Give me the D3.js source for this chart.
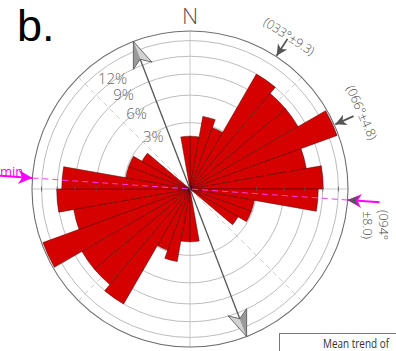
<!DOCTYPE html>
<html>
<head>
<meta charset="utf-8">
<script src="https://cdn.jsdelivr.net/npm/d3@7"></script>
<style>
  html, body { margin: 0; padding: 0; background: #fff; }
  svg { display: block; }
</style>
</head>
<body>
<svg id="chart" width="396" height="351"></svg>
<script>
// Axial rose diagram: share of lineaments per 10° bin over 0–180°,
// each bin also plotted on the opposite bearing (180–360°).
const binStart = [0, 10, 20, 30, 40, 50, 60, 70, 80, 90, 100, 110, 120, 130, 140, 150, 160, 170];
const percent  = [1.9, 3.7, 2.9, 12.0, 10.6, 10.6, 16.7, 9.5, 12.1, 11.2, 2.9, 2.9, 2.1, 0, 0, 0, 0, 1.9];
const ringValues = [3, 6, 9, 12, 15];
const ringLabels = ["3%", "6%", "9%", "12%"];
const outerValue = 17;            // percentage at the bounding circle
const meanTrend = 339;            // bearing of the mean trend (axial)
const modeBearings = [33, 66];
const modeLabels = ["(033°±9.3)", "(066°±4.8)"];
const minBearing = 94;            // bearing of the min stress direction (axial)
const minLabels = ["(094°", "±8.0)"];

const svg = d3.select("#chart");
const cx = 190, cy = 189;
const r = d3.scaleSqrt().domain([0, outerValue]).range([0, 158]);
const R = r(outerValue);
const rad = d => d * Math.PI / 180;
const pt = (bearing, radius) => [cx + radius * Math.sin(rad(bearing)), cy - radius * Math.cos(rad(bearing))];
const thin = "'Open Sans', sans-serif";

const g = svg.append("g");

// grid rings
g.selectAll("circle.ring").data(ringValues).join("circle")
  .attr("cx", cx).attr("cy", cy).attr("r", d => r(d))
  .attr("fill", "none").attr("stroke", "#b4b4b4").attr("stroke-width", 0.9);

// N–S and E–W reference lines
[0, 90].forEach(b => {
  const a = pt(b, R), c = pt(b + 180, R);
  g.append("line").attr("x1", a[0]).attr("y1", a[1]).attr("x2", c[0]).attr("y2", c[1])
    .attr("stroke", "#c4c4c4").attr("stroke-width", 0.9);
});
// diagonal dashed guides
[45, 135, 225, 315].forEach(b => {
  const a = pt(b, R);
  g.append("line").attr("x1", cx).attr("y1", cy).attr("x2", a[0]).attr("y2", a[1])
    .attr("stroke", "#c8c8c8").attr("stroke-width", 0.9).attr("stroke-dasharray", "5,4");
});

// petals
const bins = binStart.flatMap((b, i) => [0, 180].map(off => ({ start: b + off, value: percent[i] })))
  .filter(d => d.value > 0);
const arc = d3.arc();
g.selectAll("path.petal").data(bins).join("path")
  .attr("transform", `translate(${cx},${cy})`)
  .attr("d", d => arc({ innerRadius: 0, outerRadius: r(d.value), startAngle: rad(d.start), endAngle: rad(d.start + 10) }))
  .attr("fill", "#d50000").attr("stroke", "#4a0000").attr("stroke-width", 0.5);

// ticks along the E–W line
ringValues.forEach(v => {
  [-1, 1].forEach(s => {
    const x = cx + s * r(v);
    g.append("line").attr("x1", x).attr("x2", x).attr("y1", cy - 2.5).attr("y2", cy + 2.5)
      .attr("stroke", "#555").attr("stroke-width", 0.8);
  });
});

// bounding circle
g.append("circle").attr("cx", cx).attr("cy", cy).attr("r", R)
  .attr("fill", "none").attr("stroke", "#6e6e6e").attr("stroke-width", 1.1);

// ring labels along 325°, spread slightly so they stay clear of each other
ringValues.slice(0, ringLabels.length).forEach((v, i) => {
  const p = pt(325, r(v) + (v - 7.5) * 0.5);
  g.append("text").attr("x", p[0]).attr("y", p[1])
    .attr("text-anchor", "middle").attr("dominant-baseline", "central")
    .attr("font-family", thin).attr("font-weight", 300)
    .attr("font-size", 15).attr("fill", "#6a6a6a").text(ringLabels[i]);
});

// mean trend: line with shaded arrowheads at both ends
{
  const a = pt(meanTrend, R), c = pt(meanTrend + 180, R);
  g.append("line").attr("x1", a[0]).attr("y1", a[1]).attr("x2", c[0]).attr("y2", c[1])
    .attr("stroke", "#555").attr("stroke-width", 1.3);
  [meanTrend, meanTrend + 180].forEach(b => {
    const p = pt(b, R);
    const h = g.append("g").attr("transform", `translate(${p[0]},${p[1]}) rotate(${b})`);
    h.append("path").attr("d", "M0,0 L-10,26 L0,19 Z").attr("fill", "#9a9a9a");
    h.append("path").attr("d", "M0,0 L10,26 L0,19 Z").attr("fill", "#d2d2d2");
    h.append("path").attr("d", "M0,0 L10,26 L0,19 L-10,26 Z")
      .attr("fill", "none").attr("stroke", "#5a5a5a").attr("stroke-width", 0.8);
  });
}

// min stress direction: dashed magenta line with inward arrows
{
  const a = pt(minBearing, R), c = pt(minBearing + 180, R);
  g.append("line").attr("x1", a[0]).attr("y1", a[1]).attr("x2", c[0]).attr("y2", c[1])
    .attr("stroke", "#f040f0").attr("stroke-width", 1).attr("stroke-dasharray", "6,4");
  // west arrow
  const tailW = pt(minBearing + 180, 200);
  g.append("line").attr("x1", tailW[0]).attr("y1", tailW[1]).attr("x2", c[0]).attr("y2", c[1])
    .attr("stroke", "#ff00ff").attr("stroke-width", 2);
  g.append("path").attr("transform", `translate(${c[0]},${c[1]}) rotate(${minBearing + 180})`)
    .attr("d", "M0,0 L-7,-14 L0,-10 L7,-14 Z").attr("fill", "#ff00ff");
  g.append("text").attr("x", 0).attr("y", 176)
    .attr("font-family", thin).attr("font-size", 13)
    .attr("fill", "#ff00ff").text("min");
  // east arrow
  const tailE = pt(minBearing, 190);
  g.append("line").attr("x1", tailE[0]).attr("y1", tailE[1]).attr("x2", a[0]).attr("y2", a[1])
    .attr("stroke", "#ff00ff").attr("stroke-width", 2);
  g.append("path").attr("transform", `translate(${a[0]},${a[1]}) rotate(${minBearing})`)
    .attr("d", "M0,0 L-7,-14 L0,-10 L7,-14 Z").attr("fill", "#ff00ff");
  g.append("path").attr("transform", `translate(${a[0]},${a[1]}) rotate(${minBearing})`)
    .attr("d", "M0,0 L-5,-11 L0,-8 L5,-11 Z").attr("fill", "#555");
  const lp = pt(101, 189);
  const tg = g.append("g").attr("transform", `translate(${lp[0]},${lp[1]}) rotate(90)`);
  minLabels.forEach((t, i) => {
    tg.append("text").attr("x", 0).attr("y", (i - 0.5) * 15.5)
      .attr("text-anchor", "middle").attr("dominant-baseline", "central")
      .attr("font-family", thin).attr("font-weight", 300)
      .attr("font-size", 12.5).attr("fill", "#4a4a4a").text(t);
  });
}

// mode arrows with labels
modeBearings.forEach((b, i) => {
  const tip = pt(b, R + 1), tail = pt(b, R + 21);
  g.append("line").attr("x1", tail[0]).attr("y1", tail[1]).attr("x2", tip[0]).attr("y2", tip[1])
    .attr("stroke", "#555").attr("stroke-width", 1.8);
  g.append("path").attr("transform", `translate(${tip[0]},${tip[1]}) rotate(${b})`)
    .attr("d", "M0,0 L-5.5,-11 L0,-8 L5.5,-11 Z").attr("fill", "#555");
  const lp = pt(b, i === 0 ? 182 : 188);
  g.append("text").attr("transform", `translate(${lp[0]},${lp[1]}) rotate(${b})`)
    .attr("text-anchor", "middle").attr("dominant-baseline", "central")
    .attr("font-family", thin).attr("font-weight", 300)
    .attr("font-size", 12.5).attr("fill", "#4a4a4a").text(modeLabels[i]);
});

// north label and panel letter
svg.append("text").attr("x", cx).attr("y", 23.5).attr("text-anchor", "middle")
  .attr("font-family", thin).attr("font-weight", 300)
  .attr("font-size", 22.5).attr("fill", "#555").text("N");
svg.append("text").attr("x", 17).attr("y", 41)
  .attr("font-family", "'Liberation Sans', Arial, sans-serif")
  .attr("font-size", 45).attr("fill", "#000").text("b.");

// legend box (partly outside the frame)
{
  const lg = svg.append("g");
  lg.append("rect").attr("x", 279.5).attr("y", 333.5).attr("width", 140).attr("height", 40)
    .attr("fill", "#fff").attr("stroke", "#777").attr("stroke-width", 1);
  lg.append("path").attr("transform", "translate(293,351) rotate(-60)")
    .attr("d", "M0,0 L-7,16 L0,12 L7,16 Z").attr("fill", "#555");
  lg.append("text").attr("x", 323).attr("y", 348)
    .attr("font-family", thin).attr("font-size", 12.5)
    .attr("textLength", 66).attr("lengthAdjust", "spacingAndGlyphs")
    .attr("fill", "#333").text("Mean trend of");
}
</script>
</body>
</html>
